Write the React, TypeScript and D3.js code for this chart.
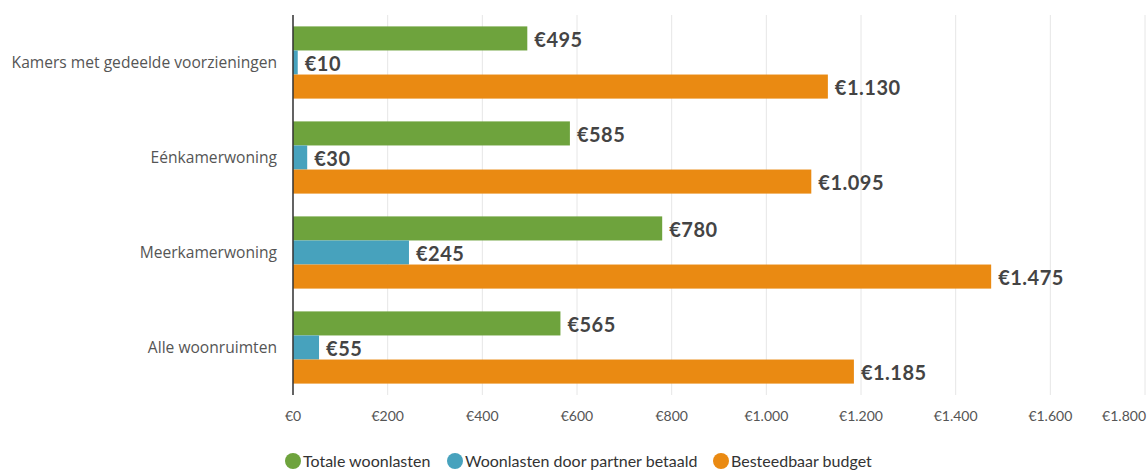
import React from "react";
import * as d3 from "d3";

const categories = [
  "Kamers met gedeelde voorzieningen",
  "Eénkamerwoning",
  "Meerkamerwoning",
  "Alle woonruimten",
];
const seriesNames = [
  "Totale woonlasten",
  "Woonlasten door partner betaald",
  "Besteedbaar budget",
];
const seriesColors = ["#6ea33d", "#47a2bd", "#ea8a12"];
const totaleWoonlasten = [495, 585, 780, 565];
const partnerBetaald = [10, 30, 245, 55];
const besteedbaarBudget = [1130, 1095, 1475, 1185];
const xTicks = [0, 200, 400, 600, 800, 1000, 1200, 1400, 1600, 1800];

const fmt = (v: number) =>
  "€" + (v >= 1000 ? Math.floor(v / 1000) + "." + String(v % 1000).padStart(3, "0") : String(v));

export default function App() {
  const W = 1147, H = 470;
  const left = 293, right = 1145, top = 15, bottom = 395;
  const font = "Lato, 'Noto Sans', sans-serif";
  const catFont = "'Open Sans', Lato, sans-serif";
  const x = d3.scaleLinear().domain([0, 1800]).range([left, right]);
  const y = d3.scaleBand().domain(categories).range([top, bottom]).paddingInner(0.24).paddingOuter(0.12);
  const inner = d3.scaleBand().domain(seriesNames).range([0, y.bandwidth()]);
  const series = [totaleWoonlasten, partnerBetaald, besteedbaarBudget];

  const legendX = [293, 455, 721];

  return (
    <svg width={W} height={H} style={{ display: "block", position: "absolute", left: 0, top: 0 }}>
      {xTicks.map((t) => (
        <line key={"g" + t} x1={x(t)} x2={x(t)} y1={top} y2={bottom} stroke="#e6e6e6" strokeWidth={1} />
      ))}
      {categories.map((c, i) =>
        series.map((s, j) => (
          <g key={c + j}>
            <rect
              x={x(0)}
              y={(y(c) as number) + (inner(seriesNames[j]) as number)}
              width={x(s[i]) - x(0)}
              height={inner.bandwidth()}
              fill={seriesColors[j]}
            />
            <text
              x={x(s[i]) + 7}
              y={(y(c) as number) + (inner(seriesNames[j]) as number) + inner.bandwidth() / 2 + 1.5}
              dy="0.35em"
              fontFamily={font}
              fontWeight="bold"
              fontSize={20}
              letterSpacing={0.5}
              fill="#444444"
            >
              {fmt(s[i])}
            </text>
          </g>
        ))
      )}
      <line x1={left} x2={left} y1={top} y2={bottom} stroke="#333333" strokeWidth={1.5} />
      {categories.map((c) => (
        <text
          key={"c" + c}
          x={277}
          y={(y(c) as number) + y.bandwidth() / 2}
          dy="0.35em"
          textAnchor="end"
          fontFamily={catFont}
          fontSize={15.6}
          fill="#555555"
        >
          {c}
        </text>
      ))}
      {xTicks.map((t, i) => (
        <text
          key={"t" + t}
          x={i === xTicks.length - 1 ? W - 1 : x(t)}
          y={416}
          dy="0.35em"
          textAnchor={i === xTicks.length - 1 ? "end" : "middle"}
          fontFamily={font}
          fontSize={14}
          fill="#555555"
        >
          {fmt(t)}
        </text>
      ))}
      {seriesNames.map((n, j) => (
        <g key={"l" + n}>
          <circle cx={legendX[j]} cy={461} r={8} fill={seriesColors[j]} />
          <text x={legendX[j] + 10} y={461} dy="0.35em" fontFamily={font} fontSize={16} fill="#333333">
            {n}
          </text>
        </g>
      ))}
    </svg>
  );
}
